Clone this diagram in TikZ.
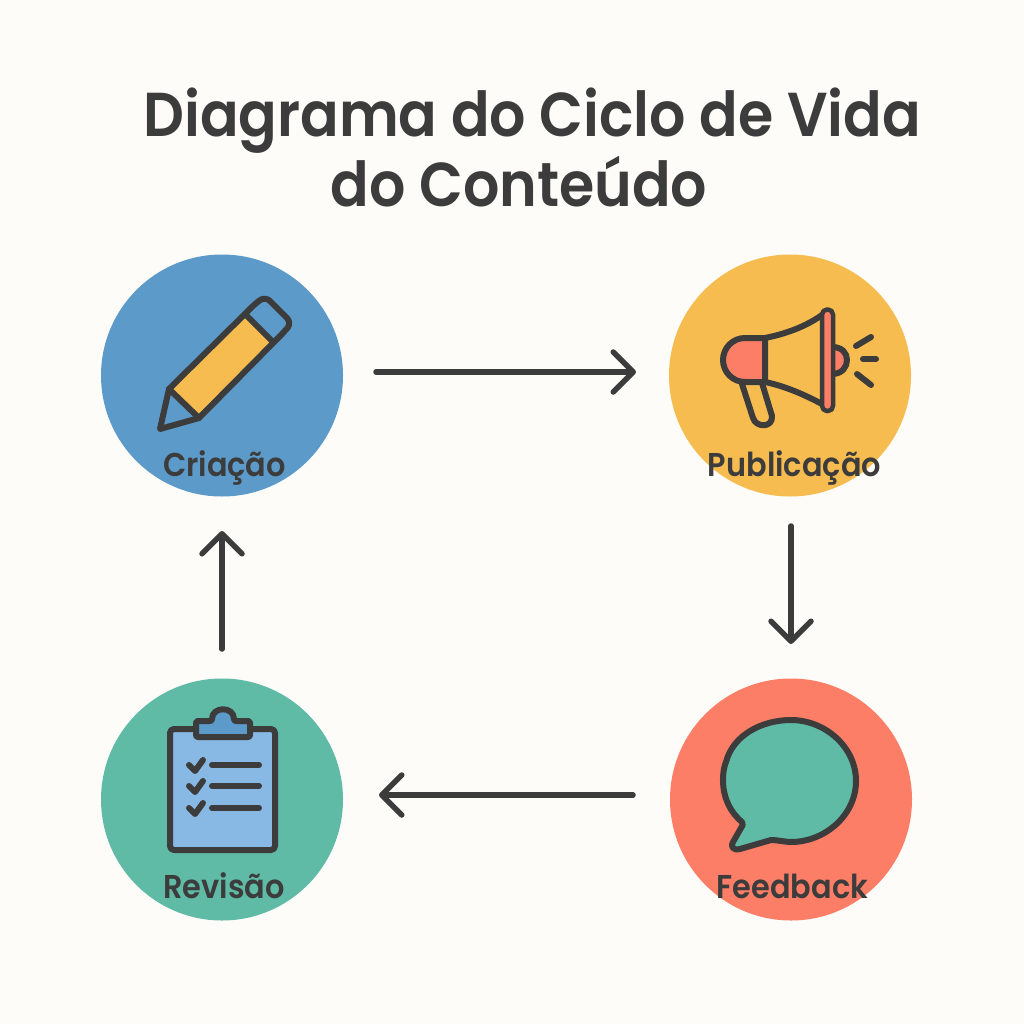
\documentclass[tikz,border=0pt]{standalone}
\usepackage{fontspec}
\setmainfont{Poppins SemiBold}[FakeStretch=0.92]
\usetikzlibrary{arrows.meta}
\definecolor{bg}{HTML}{FEFCF8}
\definecolor{cblue}{HTML}{5B9AC9}
\definecolor{cyellow}{HTML}{F7BC50}
\definecolor{ccoral}{HTML}{FC7E66}
\definecolor{cgreen}{HTML}{5FBAA6}
\definecolor{dark}{HTML}{3C3C3C}
\definecolor{lblue}{HTML}{88B8E4}
\tikzset{
  disc/.style={circle,inner sep=0pt,minimum size=242pt},
  lab/.style={text=dark,font=\fontsize{33}{33}\selectfont,inner sep=0pt,anchor=base},
  ttl/.style={text=dark,font=\fontsize{62}{62}\selectfont,inner sep=0pt,anchor=base},
  conn/.style={draw=dark,line width=5.5pt,line cap=round,-{Straight Barb[length=20pt,width=40pt,line width=5.5pt,round]}},
  ico/.style={draw=dark,line width=6pt,line join=round,line cap=round},
}
\begin{document}
\begin{tikzpicture}[x=1pt,y=-1pt]
\useasboundingbox (0,0) rectangle (1024,1024);
\fill[bg] (0,0) rectangle (1024,1024);
\node[ttl] (t1) at (532,137) {Diagrama do Ciclo de Vida};
\node[ttl] (t2) at (519,207) {do Conteúdo};
\node[disc,fill=cblue] (cria) at (222,375.5) {};
\node[disc,fill=cyellow] (pub) at (790,375.5) {};
\node[disc,fill=cgreen] (rev) at (222,799.5) {};
\node[disc,fill=ccoral] (fee) at (791,799.5) {};
% pencil
\fill[cyellow] (169,389) -- (247,316) -- (273,342) -- (199,418) -- cycle;
\draw[ico] (160,429) -- (169,389) -- (254,305) [rounded corners=7pt] -- (265,296) -- (292,323) [sharp corners] -- (282,334) -- (199,418) -- cycle;
\draw[ico] (169,389) -- (199,418);
\draw[ico] (247,316) -- (273,342);
% megaphone
\fill[ccoral] (765,338) -- (745,338) arc (-90:-270:22) -- (765,382) -- cycle;
\draw[ico,fill=ccoral] (832,347) .. controls (842,347) and (847,353) .. (847,360) .. controls (847,367) and (842,374) .. (832,374);
\draw[ico] (765,338) -- (745,338) arc (-90:-270:22) -- (765,382) -- cycle;
\draw[ico] (765,338) .. controls (785,334) and (805,327) .. (822,315);
\draw[ico] (765,382) .. controls (785,386) and (805,395) .. (822,404);
\draw[ico,line width=4.5pt,fill=ccoral,rounded corners=5pt] (822,309.5) rectangle (833,411);
\draw[ico] (742,384) -- (753,418) .. controls (756,428) and (773,428) .. (772,416) -- (762,383);
\draw[ico] (856,346) -- (871,337);
\draw[ico] (863,359) -- (876,359);
\draw[ico] (857,374) -- (871,385);
% clipboard
\draw[ico,fill=lblue,rounded corners=4pt] (170,729) rectangle (275,850);
\draw[ico,fill=cblue,rounded corners=2pt] (196,721) -- (212,721) .. controls (212,706) and (234,706) .. (234,721) -- (250,721) -- (250,737) -- (196,737) -- cycle;
\foreach \yy in {765,786,808}{
  \draw[ico] (189,\yy) -- (195,\yy+6) -- (203,\yy-5);
  \draw[ico] (212,\yy) -- (259,\yy);
}
% bubble
\draw[ico,fill=cgreen] (742,822) .. controls (718,802) and (722,771) .. (726,762)
  .. controls (733,735) and (762,720) .. (791,720)
  .. controls (825,720) and (856,747) .. (856,781)
  .. controls (856,815) and (825,842) .. (791,842)
  .. controls (785,842) and (778,840) .. (771,840)
  -- (740,849) .. controls (733,851) and (730,846) .. (733,842) -- (741,828) .. controls (743,825) and (743,824) .. (742,822) -- cycle;
% labels
\node[lab] (l1) at (224.5,476) {Criação};
\node[lab] (l2) at (794.5,476) {Publicação};
\node[lab] (l3) at (224,898) {Revisão};
\node[lab] (l4) at (792.5,898) {Feedback};
% connectors
\coordinate (a1) at (376,372); \coordinate (a2) at (636,372);
\coordinate (b1) at (791,526); \coordinate (b2) at (791,644);
\coordinate (c1) at (633,795); \coordinate (c2) at (379,795);
\coordinate (d1) at (222,649); \coordinate (d2) at (222,531);
\draw[conn] (a1) -- (a2);
\draw[conn] (b1) -- (b2);
\draw[conn] (c1) -- (c2);
\draw[conn] (d1) -- (d2);
\end{tikzpicture}
\end{document}
